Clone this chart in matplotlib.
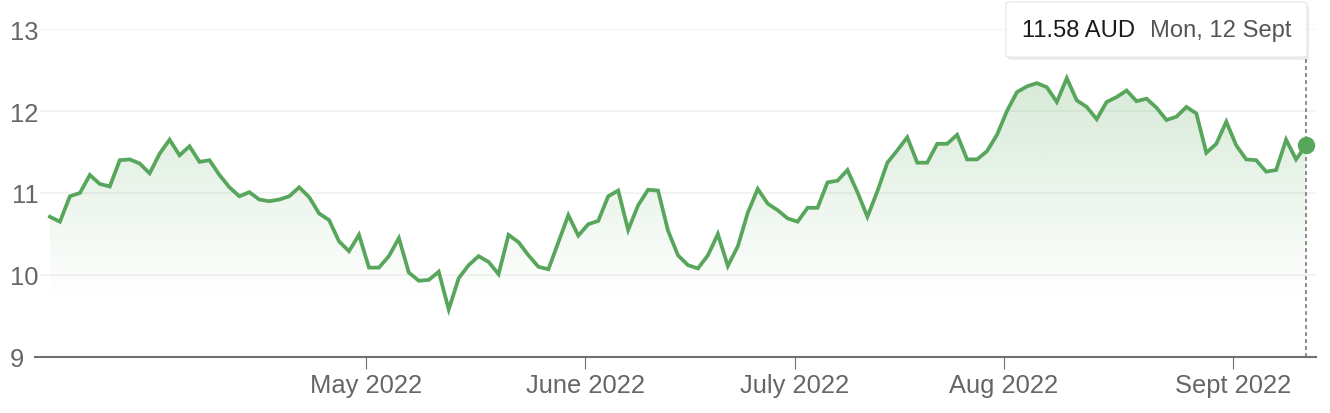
import matplotlib
matplotlib.use("Agg")
import matplotlib.pyplot as plt
import matplotlib.transforms as mtransforms
from matplotlib.patches import FancyBboxPatch, PathPatch
import numpy as np
import pandas as pd

plt.rcParams['font.family'] = ['Liberation Sans', 'DejaVu Sans']

# trading days (ASX closed on Good Friday, Easter Monday, ANZAC Day, Queen's Birthday)
holidays = ['2022-04-15', '2022-04-18', '2022-04-25', '2022-06-13']
dates = pd.bdate_range('2022-03-14', '2022-09-12', freq='C', holidays=holidays)

# closing price, AUD
prices = [
    10.71, 10.65, 10.96, 11.00, 11.22, 11.11, 11.08, 11.40, 11.41, 11.36,
    11.24, 11.48, 11.65, 11.46, 11.57, 11.38, 11.40, 11.22, 11.07, 10.96,
    11.01, 10.92, 10.90, 10.92, 10.96, 11.07, 10.95, 10.75, 10.67, 10.41,
    10.29, 10.49, 10.09, 10.09, 10.23, 10.45, 10.03, 9.93, 9.94, 10.04,
    9.58, 9.96, 10.12, 10.23, 10.16, 10.01, 10.49, 10.40, 10.24, 10.10,
    10.07, 10.40, 10.73, 10.48, 10.62, 10.66, 10.96, 11.03, 10.55, 10.85,
    11.04, 11.03, 10.54, 10.24, 10.12, 10.08, 10.24, 10.50, 10.11, 10.35,
    10.76, 11.05, 10.87, 10.79, 10.69, 10.65, 10.82, 10.82, 11.13, 11.15,
    11.28, 11.01, 10.71, 11.02, 11.37, 11.52, 11.68, 11.37, 11.37, 11.60,
    11.60, 11.71, 11.41, 11.41, 11.51, 11.71, 12.00, 12.23, 12.30, 12.34,
    12.29, 12.11, 12.40, 12.13, 12.05, 11.90, 12.11, 12.17, 12.25, 12.12,
    12.15, 12.04, 11.89, 11.93, 12.05, 11.97, 11.49, 11.60, 11.87, 11.58,
    11.41, 11.40, 11.26, 11.28, 11.65, 11.41, 11.58,
]

month_starts = ['2022-05-01', '2022-06-01', '2022-07-01', '2022-08-01', '2022-09-01']
month_labels = ['May 2022', 'June 2022', 'July 2022', 'Aug 2022', 'Sept 2022']
y_ticks = [9, 10, 11, 12, 13]

tooltip_value = '11.58 AUD'
tooltip_date = 'Mon, 12 Sept'

W, H = 1330, 414
green = '#57a65b'
label_grey = '#666666'
axis_grey = '#707070'

fig = plt.figure(figsize=(W / 100, H / 100), dpi=100)
ax = fig.add_axes([40 / W, 1 - 358 / H, (1316 - 40) / W, (358 - 30) / H])

x = np.arange(len(prices))
y = np.array(prices)

ax.set_xlim(-1, len(prices))
ax.set_ylim(9, 13)

# gradient fill under the line, fading out towards the bottom
fill = ax.fill_between(x, y, 9, color='none', lw=0)
grad = np.zeros((256, 1, 4))
grad[:, 0, :3] = matplotlib.colors.to_rgb(green)
levels = np.linspace(y.max(), 9, 256)
grad[:, 0, 3] = np.clip((levels - 9.7) / (y.max() - 9.7), 0, 1) * 0.24
im = ax.imshow(grad, aspect='auto', extent=[-1, len(prices), 9, y.max()],
               origin='upper', zorder=1, interpolation='bilinear')
clip = PathPatch(fill.get_paths()[0], transform=ax.transData, facecolor='none', edgecolor='none')
ax.add_patch(clip)
im.set_clip_path(clip)

ax.plot(x, y, color=green, lw=2.7, zorder=3, solid_joinstyle='miter')
ax.plot(x[-1], y[-1], 'o', color=green, markersize=11.5, zorder=4, clip_on=False)

# dotted crosshair at hovered point
ax.axvline(x[-1], ymin=0, ymax=(358 - 58) / (358 - 30), color='#8c8c8c',
           lw=1.4, dashes=(2, 1.6), zorder=2, clip_on=False)

# axes styling
for s in ['top', 'right', 'left']:
    ax.spines[s].set_visible(False)
ax.spines['bottom'].set_color(axis_grey)
ax.spines['bottom'].set_linewidth(1.5)
ax.spines['bottom'].set_bounds(-1.5, len(prices))
ax.spines['bottom'].set_zorder(5)

ax.set_yticks(y_ticks)
ax.set_yticklabels([str(t) for t in y_ticks])
ax.grid(axis='y', color='#f0f0f0', lw=1.1)
ax.set_axisbelow(True)
ax.tick_params(axis='y', length=0, pad=1, labelsize=18.4, labelcolor=label_grey)

# month ticks sit just before the first trading day of the month
tick_pos = [dates.searchsorted(pd.Timestamp(m)) - 0.3 for m in month_starts]
ax.set_xticks(tick_pos)
ax.set_xticklabels(month_labels)
ax.tick_params(axis='x', length=8.6, width=0.8, color=axis_grey, pad=3,
               labelsize=18.4, labelcolor=label_grey)

# the "9" label sits left of the extended baseline
lab9 = ax.get_yticklabels()[0]
lab9.set_transform(lab9.get_transform() + mtransforms.ScaledTranslation(-15 / 100, 0, fig.dpi_scale_trans))

# tooltip
def fx(px):
    return px / W


def fy(py):
    return 1 - py / H


shadow = FancyBboxPatch((fx(1008), fy(61)), fx(301), (55) / H,
                        boxstyle='round,pad=0,rounding_size=0.004',
                        transform=fig.transFigure, facecolor='#000000', alpha=0.08,
                        edgecolor='none', zorder=9)
box = FancyBboxPatch((fx(1006), fy(58)), fx(301), (55) / H,
                     boxstyle='round,pad=0,rounding_size=0.004',
                     transform=fig.transFigure, facecolor='white',
                     edgecolor='#e6e6e6', lw=0.8, zorder=10)
fig.patches.append(shadow)
fig.patches.append(box)
fig.text(fx(1022), fy(31), tooltip_value, fontsize=17.1, color='#1a1a1a',
         va='center', ha='left', zorder=11)
fig.text(fx(1150), fy(31), tooltip_date, fontsize=17.1, color='#555555',
         va='center', ha='left', zorder=11)

fig.savefig('out.png', dpi=100)
